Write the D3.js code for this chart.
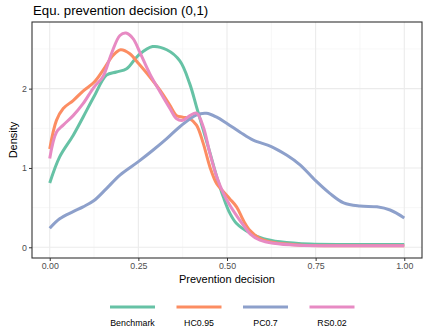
<!DOCTYPE html>
<html>
<head>
<meta charset="utf-8">
<script src="https://cdn.jsdelivr.net/npm/d3@7"></script>
<style>
  body { margin: 0; background: #fff; }
  svg { font-family: "Liberation Sans", Arial, sans-serif; }
</style>
</head>
<body>
<svg id="chart" width="424" height="332"></svg>
<script>
// series names + colours (Set2)
const seriesNames = ["Benchmark", "HC0.95", "PC0.7", "RS0.02"];
const seriesColors = ["#66C2A5", "#FC8D62", "#8DA0CB", "#E78AC3"];

// density curves: [x, density]
const benchmark = [[0, 0.81], [0.028, 1.14], [0.066, 1.41], [0.094, 1.64], [0.125, 1.90], [0.16, 2.17],
  [0.188, 2.21], [0.217, 2.25], [0.25, 2.42], [0.29, 2.53], [0.33, 2.49], [0.367, 2.35], [0.395, 2.06],
  [0.414, 1.77], [0.433, 1.48], [0.452, 1.19], [0.471, 0.89], [0.49, 0.63], [0.508, 0.43], [0.527, 0.30],
  [0.565, 0.18], [0.603, 0.11], [0.65, 0.07], [0.734, 0.04], [0.85, 0.035], [1, 0.035]];
const hc095 = [[0, 1.24], [0.019, 1.60], [0.038, 1.75], [0.066, 1.85], [0.094, 1.97], [0.125, 2.08],
  [0.15, 2.23], [0.179, 2.42], [0.2, 2.49], [0.226, 2.44], [0.25, 2.32], [0.282, 2.15], [0.311, 1.98],
  [0.339, 1.79], [0.358, 1.66], [0.375, 1.64], [0.395, 1.62], [0.414, 1.54], [0.433, 1.31], [0.452, 1.01],
  [0.471, 0.80], [0.49, 0.70], [0.508, 0.61], [0.527, 0.51], [0.546, 0.34], [0.565, 0.21], [0.593, 0.11],
  [0.631, 0.06], [0.7, 0.03], [0.85, 0.02], [1, 0.02]];
const pc07 = [[0, 0.24], [0.028, 0.36], [0.066, 0.45], [0.094, 0.51], [0.125, 0.59], [0.16, 0.74],
  [0.198, 0.91], [0.25, 1.08], [0.29, 1.22], [0.33, 1.37], [0.367, 1.52], [0.414, 1.67], [0.442, 1.69],
  [0.471, 1.64], [0.5, 1.56], [0.537, 1.45], [0.574, 1.35], [0.625, 1.27], [0.669, 1.16], [0.706, 1.04],
  [0.75, 0.84], [0.79, 0.68], [0.829, 0.56], [0.875, 0.52], [0.923, 0.51], [0.96, 0.47], [1, 0.37]];
const rs002 = [[0, 1.12], [0.019, 1.45], [0.038, 1.54], [0.066, 1.66], [0.094, 1.81], [0.125, 2.02],
  [0.15, 2.15], [0.174, 2.44], [0.198, 2.67], [0.215, 2.70], [0.235, 2.63], [0.254, 2.46], [0.282, 2.19],
  [0.311, 1.96], [0.339, 1.75], [0.358, 1.62], [0.375, 1.60], [0.395, 1.66], [0.414, 1.69], [0.433, 1.52],
  [0.452, 1.18], [0.471, 0.89], [0.49, 0.68], [0.508, 0.53], [0.527, 0.40], [0.546, 0.28], [0.565, 0.17],
  [0.593, 0.09], [0.631, 0.05], [0.7, 0.025], [0.85, 0.02], [1, 0.02]];
const allSeries = [benchmark, hc095, pc07, rs002];

const xTicks = [0, 0.25, 0.5, 0.75, 1];
const xMinor = [0.125, 0.375, 0.625, 0.875];
const yTicks = [0, 1, 2];
const yMinor = [0.5, 1.5, 2.5];

const svg = d3.select("#chart");
const panel = { left: 32, right: 422, top: 22, bottom: 258 };

const x = d3.scaleLinear().domain([-0.05, 1.05]).range([panel.left, panel.right]);
const y = d3.scaleLinear().domain([-0.135, 2.84]).range([panel.bottom, panel.top]);

// grid
const grid = svg.append("g");
grid.selectAll(".xm").data(xMinor).join("line")
  .attr("x1", d => x(d)).attr("x2", d => x(d)).attr("y1", panel.top).attr("y2", panel.bottom)
  .attr("stroke", "#f2f2f2").attr("stroke-width", 0.6);
grid.selectAll(".ym").data(yMinor).join("line")
  .attr("y1", d => y(d)).attr("y2", d => y(d)).attr("x1", panel.left).attr("x2", panel.right)
  .attr("stroke", "#f2f2f2").attr("stroke-width", 0.6);
grid.selectAll(".xM").data(xTicks).join("line")
  .attr("x1", d => x(d)).attr("x2", d => x(d)).attr("y1", panel.top).attr("y2", panel.bottom)
  .attr("stroke", "#ebebeb").attr("stroke-width", 1.1);
grid.selectAll(".yM").data(yTicks).join("line")
  .attr("y1", d => y(d)).attr("y2", d => y(d)).attr("x1", panel.left).attr("x2", panel.right)
  .attr("stroke", "#ebebeb").attr("stroke-width", 1.1);

// curves
const line = d3.line()
  .x(d => x(d[0]))
  .y(d => y(d[1]))
  .curve(d3.curveCatmullRom.alpha(0.5));

svg.append("g").selectAll("path").data(allSeries).join("path")
  .attr("d", line)
  .attr("fill", "none")
  .attr("stroke", (d, i) => seriesColors[i])
  .attr("stroke-width", 3)
  .attr("stroke-linejoin", "round")
  .attr("stroke-linecap", "butt");

// panel border
svg.append("rect")
  .attr("x", panel.left).attr("y", panel.top)
  .attr("width", panel.right - panel.left).attr("height", panel.bottom - panel.top)
  .attr("fill", "none").attr("stroke", "#333").attr("stroke-width", 1.1);

// axes
const xAxis = svg.append("g")
  .attr("transform", `translate(0,${panel.bottom})`)
  .call(d3.axisBottom(x).tickValues(xTicks).tickFormat(d3.format(".2f")).tickSize(3).tickPadding(2));
const yAxis = svg.append("g")
  .attr("transform", `translate(${panel.left},0)`)
  .call(d3.axisLeft(y).tickValues(yTicks).tickFormat(d3.format("d")).tickSize(3).tickPadding(2));
[xAxis, yAxis].forEach(a => {
  a.select(".domain").remove();
  a.selectAll(".tick line").attr("stroke", "#333");
  a.selectAll(".tick text").attr("fill", "#4d4d4d").style("font-size", "8.8px")
    .style("font-family", "Liberation Sans, Arial, sans-serif");
});

// titles
svg.append("text").attr("x", 33).attr("y", 15)
  .attr("font-size", 13.2).attr("fill", "#000")
  .text("Equ. prevention decision (0,1)");
svg.append("text").attr("x", (panel.left + panel.right) / 2).attr("y", 283)
  .attr("text-anchor", "middle").attr("font-size", 11).attr("fill", "#000")
  .text("Prevention decision");
svg.append("text")
  .attr("transform", `translate(17,${(panel.top + panel.bottom) / 2}) rotate(-90)`)
  .attr("text-anchor", "middle").attr("font-size", 11).attr("fill", "#000")
  .text("Density");

// legend
const legendX = d3.scalePoint().domain(seriesNames).range([132.5, 332]);
const legend = svg.append("g").selectAll("g").data(seriesNames).join("g")
  .attr("transform", d => `translate(${legendX(d)},0)`);
legend.append("line")
  .attr("x1", -22.5).attr("x2", 22.5).attr("y1", 307).attr("y2", 307)
  .attr("stroke", (d, i) => seriesColors[i]).attr("stroke-width", 3);
legend.append("text")
  .attr("y", 326).attr("text-anchor", "middle").attr("font-size", 8.8).attr("fill", "#000")
  .text(d => d);
</script>
</body>
</html>
